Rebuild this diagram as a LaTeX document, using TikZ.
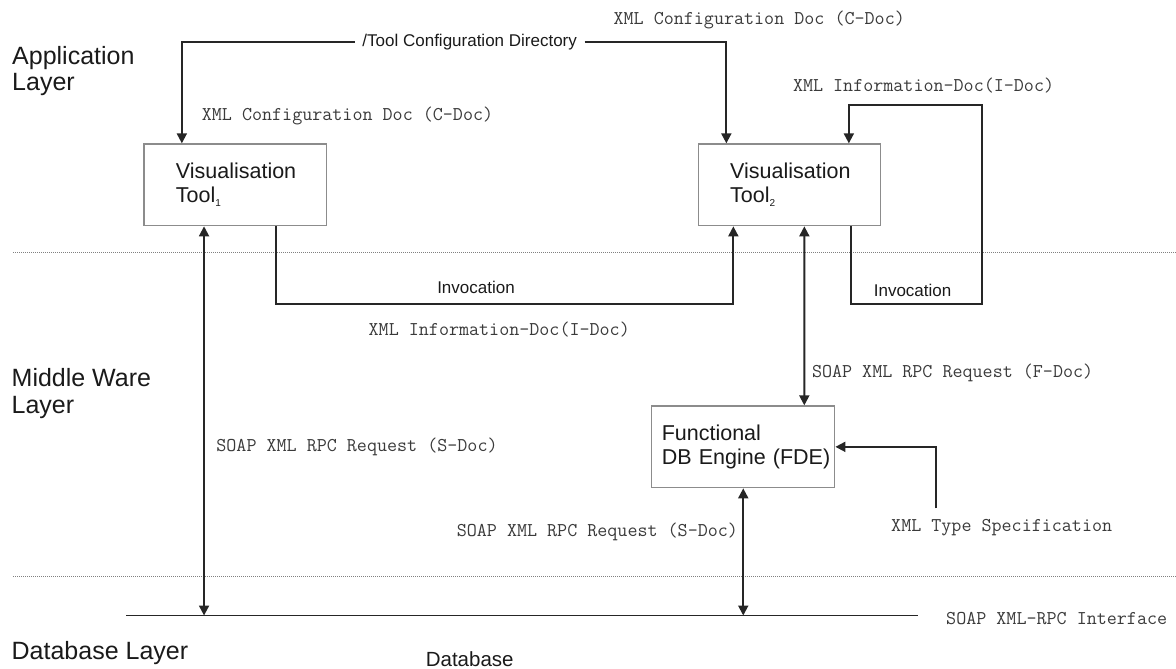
\documentclass[tikz,border=0pt]{standalone}
\usepackage{fontspec}
\setmainfont{Liberation Sans}
\usetikzlibrary{arrows.meta}

\definecolor{linegray}{HTML}{262626}
\definecolor{boxgray}{HTML}{8C8C8C}
\definecolor{monogray}{HTML}{3A3A3A}
\definecolor{sepgray}{HTML}{808080}
\definecolor{inkblack}{HTML}{1A1A1A}

\newcommand{\sub}[1]{{\fontsize{10}{10}\selectfont\raisebox{-3.5pt}{#1}}}

\tikzset{
  tip/.tip={Triangle[length=10pt,width=10pt]},
  conn/.style={draw=linegray, line width=1.9pt},
  dbline/.style={draw=linegray, line width=1.9pt},
  sepline/.style={draw=sepgray, line width=0.8pt, dash pattern=on 1pt off 1pt},
  toolbox/.style={draw=boxgray, line width=1.3pt, fill=white, text=inkblack,
    inner ysep=0pt, minimum height=81.7pt, align=left,
    font=\fontsize{21.5}{24}\selectfont},
  layerlabel/.style={anchor=base west, inner sep=0pt, align=left, text=inkblack,
    font=\fontsize{25}{26.5}\selectfont},
  sanslabel/.style={anchor=base, inner sep=0pt, text=inkblack,
    font=\fontsize{17}{20}\selectfont},
  monolabel/.style={anchor=base west, inner sep=0pt, text=monogray,
    font=\ttfamily\fontsize{19.5}{22}\selectfont},
}

\begin{document}
\begin{tikzpicture}[x=1pt,y=-1pt]
\useasboundingbox (0,0) rectangle (1176,669);

% layer separators
\coordinate (sepA1) at (13.4,252.5);
\coordinate (sepA2) at (1176,252.5);
\coordinate (sepB1) at (13.4,576);
\coordinate (sepB2) at (1176,576);
\draw[sepline] (sepA1) -- (sepA2);
\draw[sepline] (sepB1) -- (sepB2);

% layer names
\node[layerlabel] (applayer) at (12,90.7) {Application\\Layer};
\node[layerlabel] (midlayer) at (11.5,413.3) {Middle Ware\\Layer};
\node[layerlabel] (dblayer) at (11.5,659.3) {Database Layer};

% components
\node[toolbox, inner xsep=32pt, text width=118.5pt, minimum width=182.5pt]
  (v1) at (235.15,184.85) {\mbox{Visualisation}\\\mbox{Tool\sub{1}}};
\node[toolbox, inner xsep=32pt, text width=118.4pt, minimum width=182.4pt]
  (v2) at (789.4,184.85) {\mbox{Visualisation}\\\mbox{Tool\sub{2}}};
\node[toolbox, inner xsep=10pt, text width=163pt, minimum width=183pt]
  (fde) at (743.25,446.85) {\mbox{Functional}\\\mbox{DB Engine (FDE)}};

% database interface line
\coordinate (dbL) at (126.3,615.5);
\coordinate (dbR) at (917.5,615.5);
\draw[dbline] (dbL) -- (dbR);
\node[monolabel] (iface) at (946,624) {SOAP XML-RPC Interface};
\node[anchor=base, inner sep=0pt, text=inkblack, font=\fontsize{20.5}{24}\selectfont]
  (db) at (469.7,666) {Database};

% configuration directory feeding both tools
\node[sanslabel, anchor=center, inner xsep=7.5pt, inner ysep=0pt] (cfgdir) at (469.7,42.3)
  {/Tool Configuration Directory};
\draw[conn,-tip] (cfgdir.west) -| ([xshift=38.6pt]v1.north west);
\draw[conn,-tip] (cfgdir.east) -| ([xshift=28.8pt]v2.north west);
\node[monolabel] (cdoc1) at (201.7,121) {XML Configuration Doc (C-Doc)};
\node[monolabel] (cdoc2) at (613.4,25) {XML Configuration Doc (C-Doc)};

% invocation of tool 2 from tool 1
\draw[conn,-tip] ([xshift=132.4pt]v1.south west) -- ++(0,77.6)
  -| ([xshift=35.8pt]v2.south west);
\node[sanslabel] (inv1) at (476,293.3) {Invocation};
\node[monolabel] (idoc1) at (368.5,335) {XML Information-Doc(I-Doc)};

% tool 2 invoking itself
\draw[conn,-tip] ([xshift=153.8pt]v2.south west) -- ++(0,77.6) -- ++(131,0)
  -- ++(0,-199) -| ([xshift=151.3pt]v2.north west);
\node[sanslabel] (inv2) at (912.6,296) {Invocation};
\node[monolabel] (idoc2) at (792.8,91.2) {XML Information-Doc(I-Doc)};

% tool 2 <-> functional engine
\draw[conn,tip-tip] ([xshift=106.8pt]v2.south west) -- ([xshift=153.2pt]fde.north west);
\node[monolabel] (fdoc) at (811.8,377.8) {SOAP XML RPC Request (F-Doc)};

% type specification into the engine
\coordinate (specend) at (936.1,508.3);
\draw[conn,-tip] (specend) |- (fde.east);
\node[monolabel] (spec) at (891,531.7) {XML Type Specification};

% requests down to the database interface
\draw[conn,tip-tip] ([xshift=60.8pt]v1.south west) -- ([xshift=60.8pt]v1.south west |- dbL);
\node[monolabel] (sdoc1) at (216.2,451.2) {SOAP XML RPC Request (S-Doc)};
\draw[conn,tip-tip] (fde.south) -- (fde.south |- dbL);
\node[monolabel] (sdoc2) at (456.6,536.5) {SOAP XML RPC Request (S-Doc)};

\end{tikzpicture}
\end{document}
